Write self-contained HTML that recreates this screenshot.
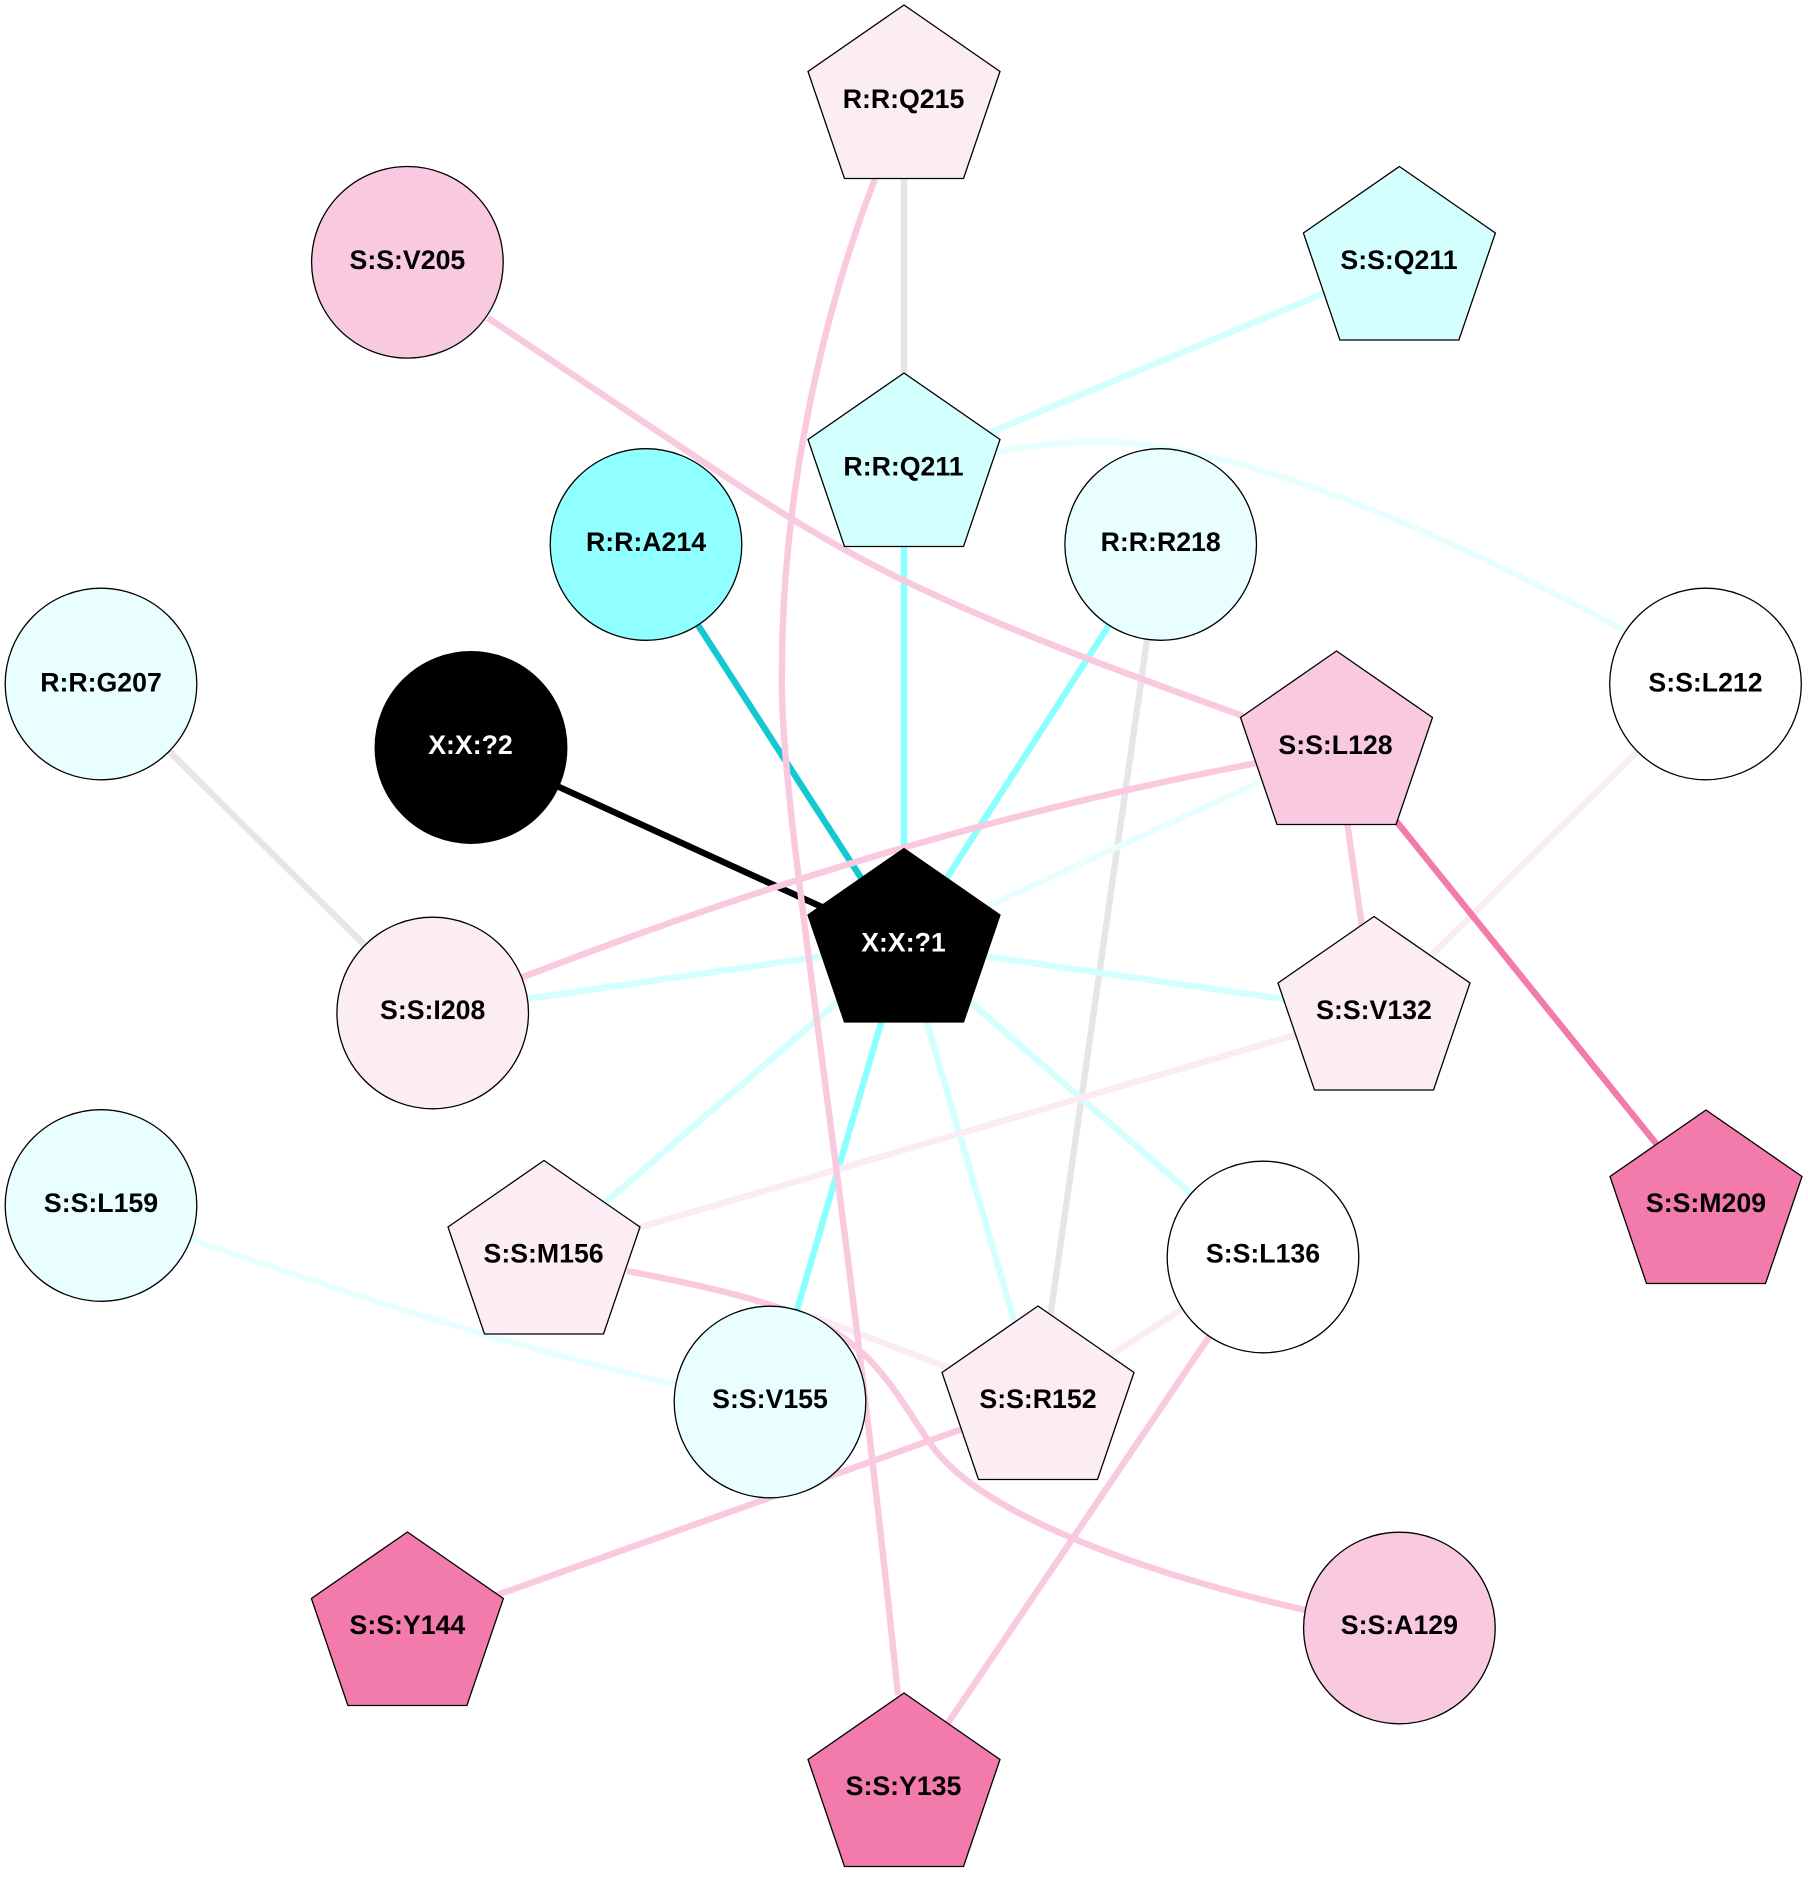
<!DOCTYPE html>
<html>
<head>
<meta charset="utf-8">
<style>
html,body{margin:0;padding:0;background:#fff}
svg{display:block}
text{font-family:"Liberation Sans",sans-serif;font-weight:bold;font-size:26.7px;text-anchor:middle;fill:#000}
.n{stroke:#000;stroke-width:1.3}
.e{fill:none;stroke-width:6.4}
</style>
</head>
<body>
<svg width="1808" height="1890" viewBox="0 0 1808 1890" xmlns="http://www.w3.org/2000/svg">
<!-- edges -->
<g class="e" stroke="#e6e6e6">
<path class="e" d="M904,101L904,468"/>
<path class="e" d="M1160.7,544.5L1038,1402"/>
<path class="e" d="M101,684L432.7,1012.5"/>
</g>
<g class="e" stroke="#e9ffff">
<path class="e" d="M1336.5,747L904,944.5"/>
<path class="e" d="M150,1225C300,1277 480,1340 690,1388"/>
<path class="e" d="M997,452C1040,444 1080,441 1110,442C1230,447 1400,510 1624,630"/>
</g>
<g class="e" stroke="#d3ffff">
<path class="e" d="M904,468.5L1399,262"/>
<path class="e" d="M432.7,1012.5L904,944.5"/>
<path class="e" d="M904,944.5L1374,1012"/>
<path class="e" d="M904,944.5L1263,1256"/>
<path class="e" d="M904,944.5L544,1255.5"/>
<path class="e" d="M904,944.5L1038,1402"/>
</g>
<g class="e" stroke="#8cffff">
<path class="e" d="M904,468L904,944"/>
<path class="e" d="M1160.7,544.5L904,944.5"/>
<path class="e" d="M904,944.5L770,1402"/>
</g>
<path class="e" stroke="#14c8d2" d="M646,544.5L904,944.5"/>
<path class="e" stroke="#000" d="M471.5,747L904,944.5"/>
<g class="e" stroke="#fbebf3">
<path class="e" d="M1705.5,684L1374,1012"/>
<path class="e" d="M1374,1012L544,1255.5"/>
<path class="e" d="M1263,1257L1038,1402"/>
<path class="e" d="M812,1316L960,1372"/>
</g>
<g class="e" stroke="#f9c9df">
<path class="e" d="M875,179C820,320 782,500 782,670C778,800 840,1130 898,1695"/>
<path class="e" d="M488,318L690,453C760,500 830,545 903,580C1010,632 1130,675 1243,716"/>
<path class="e" d="M500,985L523,977C770,882 1000,812 1257,763L1290,756"/>
<path class="e" d="M1336.5,747L1374,1012"/>
<path class="e" d="M1038,1402L407.4,1627"/>
<path class="e" d="M1263,1257L904,1788"/>
<path class="e" d="M627,1271C700,1285 780,1302 830,1329C880,1358 900,1400 930,1443C975,1510 1130,1570 1305,1610"/>
</g>
<path class="e" stroke="#f27bac" d="M1336.5,747L1706,1205.5"/>

<!-- circles -->
<circle class="n" cx="407.4" cy="262.3" r="95.8" fill="#f9c9df"/>
<circle class="n" cx="646" cy="544.5" r="95.8" fill="#8fffff"/>
<circle class="n" cx="1160.7" cy="544.5" r="95.8" fill="#e9ffff"/>
<circle class="n" cx="101" cy="684" r="95.8" fill="#e9ffff"/>
<circle class="n" cx="1705.5" cy="684" r="95.8" fill="#ffffff"/>
<circle class="n" cx="471" cy="747.5" r="95.8" fill="#000000"/>
<circle class="n" cx="432.7" cy="1013" r="95.8" fill="#fcecf4"/>
<circle class="n" cx="101" cy="1205.5" r="95.8" fill="#e9ffff"/>
<circle class="n" cx="1263" cy="1257" r="95.8" fill="#ffffff"/>
<circle class="n" cx="770" cy="1402" r="95.8" fill="#e9ffff"/>
<circle class="n" cx="1399.4" cy="1628" r="95.8" fill="#f9c9df"/>

<!-- pentagons -->
<polygon class="n" transform="translate(904,5)" points="0,0 96,66.5 59.5,173.5 -59.5,173.5 -96,66.5" fill="#fcecf4"/>
<polygon class="n" transform="translate(1399.4,166.5)" points="0,0 96,66.5 59.5,173.5 -59.5,173.5 -96,66.5" fill="#d3ffff"/>
<polygon class="n" transform="translate(904,373)" points="0,0 96,66.5 59.5,173.5 -59.5,173.5 -96,66.5" fill="#d3ffff"/>
<polygon class="n" transform="translate(1336.5,651)" points="0,0 96,66.5 59.5,173.5 -59.5,173.5 -96,66.5" fill="#f9c9df"/>
<polygon class="n" transform="translate(904,848.5)" points="0,0 96,66.5 59.5,173.5 -59.5,173.5 -96,66.5" fill="#000000"/>
<polygon class="n" transform="translate(1374,916.5)" points="0,0 96,66.5 59.5,173.5 -59.5,173.5 -96,66.5" fill="#fcecf4"/>
<polygon class="n" transform="translate(544,1160.5)" points="0,0 96,66.5 59.5,173.5 -59.5,173.5 -96,66.5" fill="#fcecf4"/>
<polygon class="n" transform="translate(1706,1110)" points="0,0 96,66.5 59.5,173.5 -59.5,173.5 -96,66.5" fill="#f27bac"/>
<polygon class="n" transform="translate(1038,1306)" points="0,0 96,66.5 59.5,173.5 -59.5,173.5 -96,66.5" fill="#fcecf4"/>
<polygon class="n" transform="translate(407.4,1532)" points="0,0 96,66.5 59.5,173.5 -59.5,173.5 -96,66.5" fill="#f27bac"/>
<polygon class="n" transform="translate(904,1693)" points="0,0 96,66.5 59.5,173.5 -59.5,173.5 -96,66.5" fill="#f27bac"/>

<!-- labels -->
<text x="903.5" y="108">R:R:Q215</text>
<text x="407.4" y="269">S:S:V205</text>
<text x="1399" y="269">S:S:Q211</text>
<text x="903.5" y="475.5">R:R:Q211</text>
<text x="646" y="551">R:R:A214</text>
<text x="1160.7" y="551">R:R:R218</text>
<text x="101" y="691.5">R:R:G207</text>
<text x="1705.5" y="691.5">S:S:L212</text>
<text x="470.5" y="754" style="fill:#fff">X:X:?2</text>
<text x="1335.5" y="754">S:S:L128</text>
<text x="903.5" y="951.5" style="fill:#fff">X:X:?1</text>
<text x="432.7" y="1019">S:S:I208</text>
<text x="1374" y="1019">S:S:V132</text>
<text x="101" y="1212">S:S:L159</text>
<text x="1706" y="1212">S:S:M209</text>
<text x="543.6" y="1262.5">S:S:M156</text>
<text x="1263" y="1262.5">S:S:L136</text>
<text x="770" y="1408">S:S:V155</text>
<text x="1038" y="1408">S:S:R152</text>
<text x="407.4" y="1634">S:S:Y144</text>
<text x="1399.4" y="1634">S:S:A129</text>
<text x="903.5" y="1795">S:S:Y135</text>
</svg>
</body>
</html>
